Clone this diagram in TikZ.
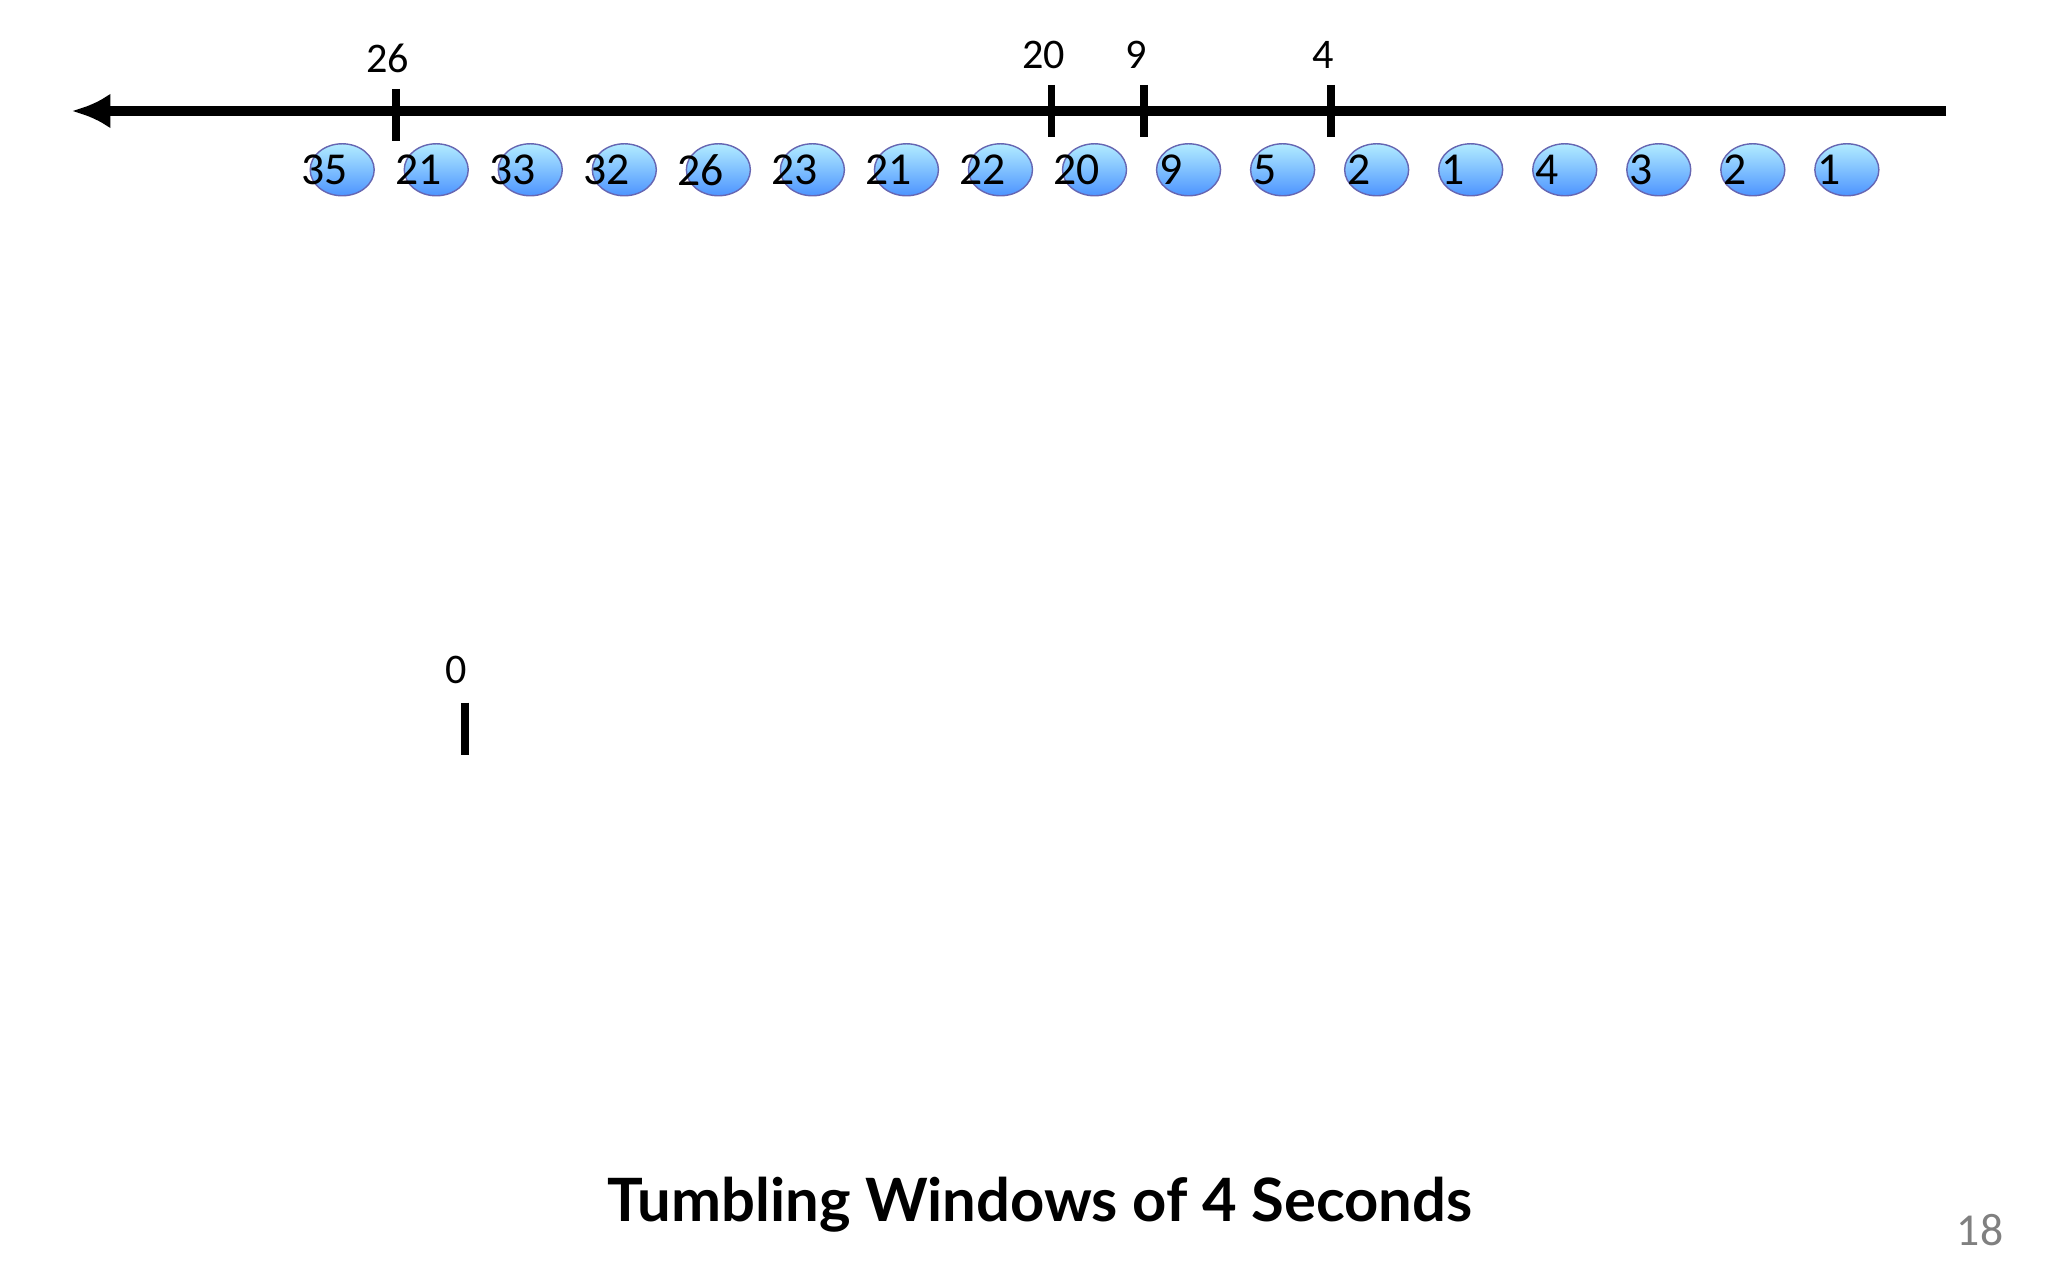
\documentclass[tikz,border=0pt]{standalone}
\usepackage{fontspec}
\setmainfont{Carlito}
\newfontfamily\titlefont{Lato}
\usetikzlibrary{shapes.geometric,arrows.meta}
\begin{document}
\begin{tikzpicture}[x=0.01306cm,y=-0.01306cm,
  ev/.style={ellipse,draw=blue!50!black!60,line width=0.4pt,minimum width=0.64cm,minimum height=0.52cm,inner sep=0pt,top color=blue!25!cyan!30,bottom color=blue!60!cyan!70,font=\fontsize{13}{13}\selectfont},
  tk/.style={line width=2.2pt},
  lb/.style={font=\fontsize{12}{12}\selectfont}]
\useasboundingbox[fill=white] (0,0) rectangle (1568,980);
\coordinate (r) at (1490,85);
\coordinate (l) at (55,85);
\draw[line width=2.6pt,-{Latex[length=11pt,width=10pt]}] (r) -- (l);
\foreach \x/\t/\a/\b in {303/26/68/108,805/20/65/105,876/9/65/105,1019/4/65/105}{
  \coordinate (t\x a) at (\x,\a); \coordinate (t\x b) at (\x,\b);
  \draw[tk] (t\x a) -- (t\x b);
  \node[lb,anchor=south] (L\x) at (\x-6,\a-3) {\t};
}
\foreach \v [count=\i] in {35,21,33,32,26,23,21,22,20,9,5,2,1,4,3,2,1}{
  \node[ev] (e\i) at ({190+72*\i},130) {\hspace*{-10pt}\v};
}
\coordinate (za) at (356,538); \coordinate (zb) at (356,578);
\draw[tk] (za) -- (zb);
\node[lb,anchor=south] (zl) at (349,533) {0};
\node[font=\titlefont\bfseries\fontsize{17}{17}\selectfont] (title) at (796,922) {Tumbling Windows of 4 Seconds};
\node[text=gray,font=\fontsize{13}{13}\selectfont] (pg) at (1516,942) {18};
\end{tikzpicture}
\end{document}
